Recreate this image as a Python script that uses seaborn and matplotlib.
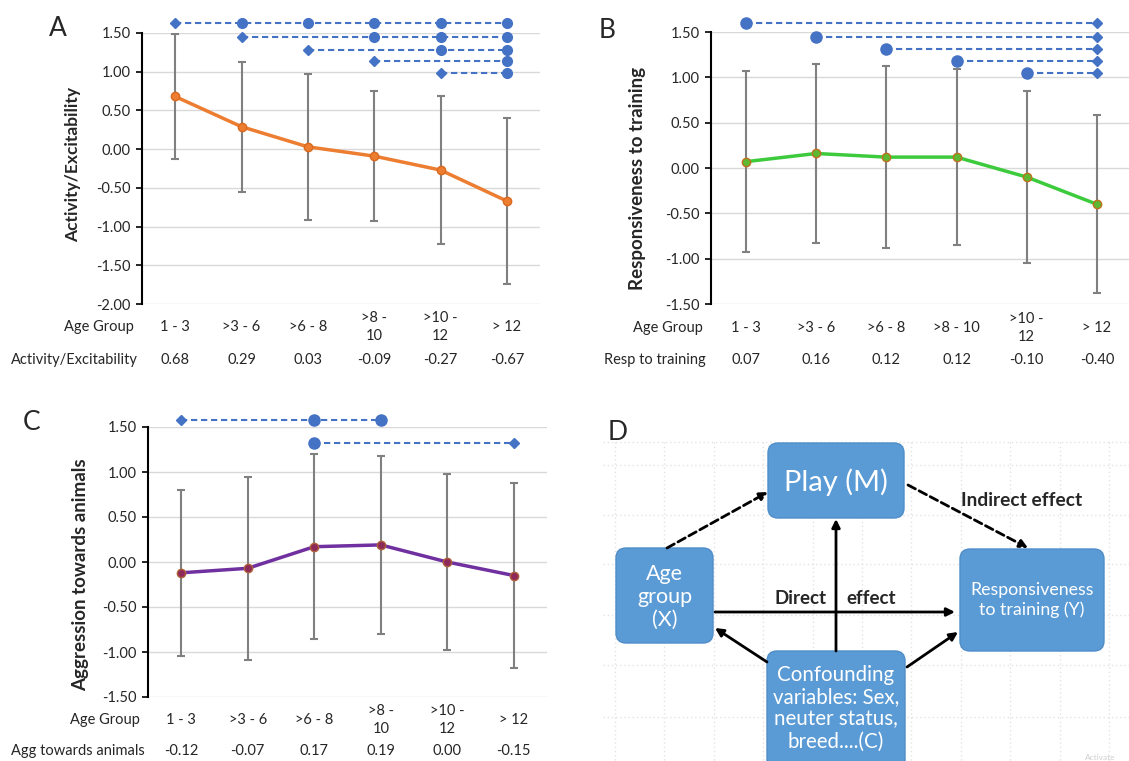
import matplotlib
matplotlib.use("Agg")
import matplotlib.pyplot as plt
import matplotlib.transforms as mtrans
from matplotlib.patches import FancyBboxPatch
import numpy as np
import pandas as pd
import seaborn as sns

sns.set_style("white")
plt.rcParams['font.family'] = ['Lato', 'DejaVu Sans']
plt.rcParams['axes.unicode_minus'] = False

# ---------------- data ----------------
age_groups_A = ["1 - 3", ">3 - 6", ">6 - 8", ">8 -\n10", ">10 -\n12", "> 12"]
age_groups_B = ["1 - 3", ">3 - 6", ">6 - 8", ">8 - 10", ">10 -\n12", "> 12"]
age_groups_C = ["1 - 3", ">3 - 6", ">6 - 8", ">8 -\n10", ">10 -\n12", "> 12"]

activity_mean = [0.68, 0.29, 0.03, -0.09, -0.27, -0.67]
activity_sd = [0.81, 0.84, 0.94, 0.84, 0.95, 1.07]

training_mean = [0.07, 0.16, 0.12, 0.12, -0.10, -0.40]
training_sd = [1.00, 0.99, 1.00, 0.97, 0.95, 0.98]

aggression_mean = [-0.12, -0.07, 0.17, 0.19, 0.00, -0.15]
aggression_sd = [0.92, 1.02, 1.03, 0.99, 0.98, 1.03]

# significance rows: (y, diamond indices, circle indices)
sig_A = [(1.63, [0], [1, 2, 3, 4, 5]),
         (1.45, [1], [3, 4, 5]),
         (1.28, [2], [4, 5]),
         (1.14, [3], [5]),
         (0.98, [4], [5])]
sig_B = [(1.60, [5], [0]),
         (1.45, [5], [1]),
         (1.31, [5], [2]),
         (1.18, [5], [3]),
         (1.05, [5], [4])]
sig_C = [(1.58, [0], [2, 3]),
         (1.32, [5], [2])]

W, H = 1129, 761
fig = plt.figure(figsize=(W / 100, H / 100), dpi=100)
fig.patch.set_facecolor("white")


def px_axes(left, top, right, bottom):
    return fig.add_axes([left / W, 1 - bottom / H, (right - left) / W, (bottom - top) / H])


def panel(ax, labels, mean, sd, ylim, yticks, line_color, mface, medge, sig,
          circ_size, label_y, row_y, row_name, row_x, name_x):
    df = pd.DataFrame({"idx": np.arange(len(mean)), "mean": mean, "sd": sd})
    ax.set_xlim(-0.5, 5.5)
    ax.set_ylim(*ylim)
    ax.set_yticks(yticks)
    ax.set_yticklabels([f"{v:.2f}" for v in yticks], fontsize=10.5, color="#262626")
    ax.yaxis.grid(True, color="#d9d9d9", lw=1.0)
    ax.set_axisbelow(True)
    ax.set_xticks([])
    for s in ["top", "right", "bottom"]:
        ax.spines[s].set_visible(False)
    ax.spines["left"].set_color("black")
    ax.spines["left"].set_linewidth(1.5)
    ax.tick_params(axis="y", left=True, length=4, width=1.2, color="black", pad=4)
    ax.errorbar(df["idx"], df["mean"], yerr=df["sd"], fmt="none", ecolor="#808080",
                elinewidth=1.5, capsize=3, capthick=1.5, zorder=2)
    sns.lineplot(data=df, x="idx", y="mean", ax=ax, color=line_color, lw=2.5,
                 marker="o", markersize=6, markerfacecolor=mface,
                 markeredgecolor=medge, markeredgewidth=1, zorder=3)
    ax.set_xlabel("")
    ax.set_ylabel("")
    for y, dia, circ in sig:
        allx = dia + circ
        ax.plot([min(allx), max(allx)], [y, y], color="#4472C4", lw=1.5,
                dashes=(3, 1.8), clip_on=False, zorder=4)
        ax.plot(dia, [y] * len(dia), ls="none", marker="D", markersize=5,
                color="#4472C4", clip_on=False, zorder=5)
        ax.plot(circ, [y] * len(circ), ls="none", marker="o", markersize=circ_size,
                color="#4472C4", clip_on=False, zorder=5)
    tr = mtrans.blended_transform_factory(ax.transData, fig.transFigure)
    for i, lab in enumerate(labels):
        ax.text(i, 1 - label_y / H, lab, transform=tr, ha="center", va="center",
                fontsize=10.5, color="#262626", linespacing=1.35)
        ax.text(i, 1 - row_y / H, f"{mean[i]:.2f}", transform=tr, ha="center",
                va="center", fontsize=10.5, color="#262626")
    fig.text(name_x / W, 1 - label_y / H, "Age Group", ha="right", va="center",
             fontsize=10.5, color="#262626")
    fig.text(row_x / W, 1 - row_y / H, row_name, ha="right", va="center",
             fontsize=10.5, color="#262626")


# Panel A
axA = px_axes(142, 33, 540, 304)
panel(axA, age_groups_A, activity_mean, activity_sd, (-2.0, 1.5),
      np.arange(-2.0, 1.51, 0.5), "#ED7D31", "#ED7D31", "#D8691E", sig_A, 7,
      327, 360, "Activity/Excitability", 138, 134)
fig.text(73 / W, 1 - 164 / H, "Activity/Excitability", rotation=90, ha="center",
         va="center", fontsize=12.5, fontweight="bold")
fig.text(58 / W, 1 - 28 / H, "A", fontsize=19, ha="center", va="center")

# Panel B
axB = px_axes(711, 32, 1132, 304)
panel(axB, age_groups_B, training_mean, training_sd, (-1.5, 1.5),
      np.arange(-1.5, 1.51, 0.5), "#3DCB3D", "#5DB832", "#C0701E", sig_B, 8,
      328, 360, "Resp to training", 706, 703)
fig.text(637 / W, 1 - 178 / H, "Responsiveness to training", rotation=90, ha="center",
         va="center", fontsize=13.5, fontweight="bold")
fig.text(607 / W, 1 - 30 / H, "B", fontsize=19, ha="center", va="center")

# Panel C
axC = px_axes(148, 427, 547, 697)
panel(axC, age_groups_C, aggression_mean, aggression_sd, (-1.5, 1.5),
      np.arange(-1.5, 1.51, 0.5), "#7030A0", "#8E2A5A", "#B0603A", sig_C, 8,
      720, 751, "Agg towards animals", 145, 140)
fig.text(81 / W, 1 - 575 / H, "Aggression towards animals", rotation=90, ha="center",
         va="center", fontsize=13.5, fontweight="bold")
fig.text(32 / W, 1 - 422 / H, "C", fontsize=19, ha="center", va="center")

# Panel D diagram
axD = px_axes(560, 390, 1129, 761)
axD.set_xlim(560, 1129)
axD.set_ylim(761, 390)
axD.axis("off")
for k in range(11):
    x = 615 + 49.4 * k
    axD.plot([x, x], [442, 761], color="#e3e3e3", lw=1, ls=(0, (1, 2)), zorder=0)
for yv in [442, 465, 515, 564, 615, 665, 717]:
    axD.plot([603, 1129], [yv, yv], color="#e3e3e3", lw=1, ls=(0, (1, 2)), zorder=0)

box_color = "#5B9BD5"
# (x0, y0, x1, y1, text, fontsize, text_y, linespacing)
boxes = [
    (768, 443, 904, 518, "Play (M)", 21, 482, 1.1),
    (616, 548, 713, 643, "Age\ngroup\n(X)", 15.5, 597, 1.2),
    (960, 549, 1104, 651, "Responsiveness\nto training (Y)", 12.8, 600, 1.22),
    (767, 651, 905, 785, "Confounding\nvariables: Sex,\nneuter status,\nbreed....(C)", 14.8, 708, 1.14),
]
for x0, y0, x1, y1, txt, fs, ty, lsp in boxes:
    p = FancyBboxPatch((x0, y0), x1 - x0, y1 - y0,
                       boxstyle="round,pad=0,rounding_size=10",
                       facecolor=box_color, edgecolor="#4F8DC8", lw=1, zorder=2,
                       clip_on=False)
    axD.add_patch(p)
    axD.text((x0 + x1) / 2, ty, txt, ha="center", va="center",
             color="white", fontsize=fs, linespacing=lsp, zorder=3)


def arrow(p0, p1, dashed=False):
    axD.annotate("", xy=p1, xytext=p0,
                 arrowprops=dict(arrowstyle="-|>", lw=2, color="black",
                                 linestyle=(0, (3, 1.5)) if dashed else "-",
                                 mutation_scale=12, shrinkA=0, shrinkB=0),
                 zorder=4)


arrow((667, 548), (768, 492), dashed=True)
arrow((908, 485), (1028, 548), dashed=True)
arrow((715, 612), (955, 612))
arrow((836, 651), (836, 519))
arrow((767, 662), (715, 628))
arrow((907, 667), (958, 632))

axD.text(1022, 501, "Indirect effect", ha="center", va="center", fontsize=13.8,
         fontweight="bold", zorder=5)
axD.text(801, 598, "Direct", ha="center", va="center", fontsize=13.5,
         fontweight="bold", zorder=5)
axD.text(871, 598, "effect", ha="center", va="center", fontsize=13.5,
         fontweight="bold", zorder=5)
axD.text(1100, 757, "Activate", ha="center", va="center", fontsize=6,
         color="#d0d0d0", zorder=5)
fig.text(618 / W, 1 - 433 / H, "D", fontsize=19, ha="center", va="center")

fig.savefig("out.png", dpi=100, facecolor="white")
